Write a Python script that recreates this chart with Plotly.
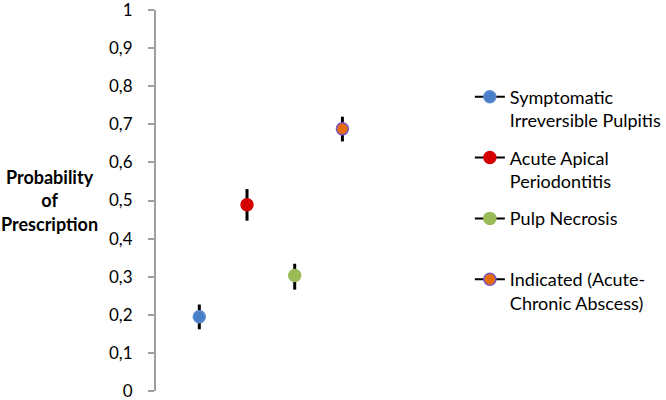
import plotly.graph_objects as go

categories = ["Symptomatic<br>Irreversible Pulpitis", "Acute Apical<br>Periodontitis",
              "Pulp Necrosis<br> ", "Indicated (Acute-<br>Chronic Abscess)"]
x_pos = [1, 2, 3, 4]
probs = [0.195, 0.489, 0.303, 0.688]
err_hi = [0.227, 0.530, 0.334, 0.720]
err_lo = [0.162, 0.447, 0.266, 0.655]
fill_colors = ["#4A7EC8", "#D40000", "#9BBB59", "#E46C0A"]
edge_colors = ["#5A8CD0", "#D40000", "#9BBB59", "#7A55C8"]
tick_vals = [0, 0.1, 0.2, 0.3, 0.4, 0.5, 0.6, 0.7, 0.8, 0.9, 1]
tick_text = ["0", "0,1", "0,2", "0,3", "0,4", "0,5", "0,6", "0,7", "0,8", "0,9", "1"]

FONT = "Lato"
fig = go.Figure()
for i in range(4):
    fig.add_trace(go.Scatter(
        x=[x_pos[i]], y=[probs[i]], name=categories[i], legendgroup=str(i),
        mode="lines+markers",
        line=dict(color="black", width=2),
        marker=dict(size=12, color=fill_colors[i], line=dict(color=edge_colors[i], width=1.5)),
        error_y=dict(type="data", symmetric=False,
                     array=[err_hi[i] - probs[i]], arrayminus=[probs[i] - err_lo[i]],
                     color="black", thickness=3, width=0),
    ))

fig.update_layout(
    width=666, height=400,
    margin=dict(l=156, r=228, t=10, b=9, autoexpand=False),
    paper_bgcolor="white", plot_bgcolor="white",
    font=dict(family=FONT, size=16, color="black"),
    xaxis=dict(range=[0.092, 6.004], visible=False),
    yaxis=dict(range=[0, 1], tickvals=tick_vals, ticktext=tick_text,
               showline=True, linecolor="#A0A0A0", linewidth=2,
               ticks="outside", ticklen=6, tickcolor="#A0A0A0", tickwidth=1.5,
               showgrid=False, zeroline=False, ticklabelstandoff=12,
               ticklabeloverflow="allow", automargin=False,
               tickfont=dict(family=FONT, size=17)),
    legend=dict(x=1.113, y=0.82, xanchor="left", yanchor="top",
                valign="top", tracegroupgap=11, font=dict(family=FONT, size=18),
                itemwidth=30),
    showlegend=True,
    annotations=[dict(text="<b>Probability<br>of<br>Prescription</b>", xref="paper", yref="paper",
                      x=-0.379, y=0.5, xanchor="center", yanchor="middle", showarrow=False,
                      align="center", font=dict(family=FONT, size=18))],
)
fig.write_html("out.html", config={"displayModeBar": False},
               post_script="document.body.style.margin='0';")
